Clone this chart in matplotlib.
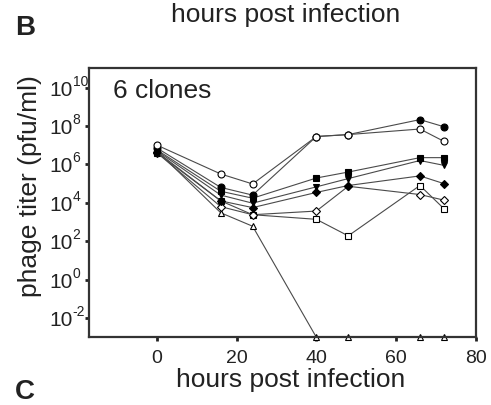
import numpy as np
import matplotlib
matplotlib.use("Agg")
import matplotlib.pyplot as plt
from matplotlib.ticker import FixedLocator, NullFormatter
from matplotlib.transforms import blended_transform_factory, ScaledTranslation

plt.rcParams['font.family'] = ['Liberation Sans', 'DejaVu Sans']

# hours post infection
hours = [0, 16, 24, 40, 48, 66, 72]

# log10 phage titer (pfu/ml) per clone / series
filled_circle   = [6.85, 4.80, 4.40, 7.45, 7.55, 8.33, 7.96]
open_circle     = [7.00, 5.50, 4.98, 7.45, 7.55, 7.84, 7.20]
filled_square   = [6.75, 4.60, 4.24, 5.29, 5.60, 6.35, 6.35]
filled_tri_down = [6.70, 4.40, 3.98, 4.83, 5.26, 6.20, 5.95]
filled_diamond  = [6.65, 4.10, 3.75, 4.54, 4.90, 5.40, 5.00]
open_diamond    = [6.60, 3.80, 3.38, 3.57, 4.86, 4.43, 4.14]
open_square     = [6.60, 4.10, 3.38, 3.14, 2.28, 4.90, 3.70]
open_tri_up     = [6.70, 3.48, 2.78, -3.0, -3.0, -3.0, -3.0]

series = [
    (open_tri_up, '^', 'white', 5),
    (open_square, 's', 'white', 4.5),
    (open_diamond, 'D', 'white', 4.5),
    (filled_diamond, 'D', 'black', 4),
    (filled_tri_down, 'v', 'black', 5),
    (filled_square, 's', 'black', 4.5),
    (filled_circle, 'o', 'black', 5),
    (open_circle, 'o', 'white', 5),
]

ytick_exps = [-2, 0, 2, 4, 6, 8, 10]
ytick_base = '10'
xticks = [0, 20, 40, 60, 80]

fig = plt.figure(figsize=(4.91, 4.05), dpi=100)
ax = fig.add_axes([89.3/491, 1-337.3/405, (475.7-89.3)/491, (337.3-68.3)/405])

for vals, mk, fc, ms in series:
    ax.plot(hours, 10.0**np.array(vals), color='#4a4a4a', lw=0.8,
            marker=mk, markerfacecolor=fc, markeredgecolor='black',
            markeredgewidth=0.8, markersize=ms, clip_on=False)

ax.set_yscale('log')
ax.set_ylim(1e-3, 1e11)
ax.set_xlim(-17, 80)

ax.yaxis.set_major_locator(FixedLocator([10.0**e for e in ytick_exps]))
ax.yaxis.set_major_formatter(NullFormatter())
ax.yaxis.set_minor_locator(FixedLocator([]))
ax.set_xticks(xticks)
ax.set_xticklabels([str(t) for t in xticks])

for s in ax.spines.values():
    s.set_linewidth(1.6)
    s.set_color('#333333')
ax.tick_params(axis='y', direction='out', length=3, width=2, colors='#222222')
ax.tick_params(axis='x', direction='out', length=3, width=2, pad=6,
               labelsize=14, colors='#222222')

# y tick labels: base "10" with raised exponent
trans = blended_transform_factory(ax.transAxes, ax.transData)
def off(dx_px, dy_px):
    return ScaledTranslation(dx_px/100, dy_px/100, fig.dpi_scale_trans)
for e in ytick_exps:
    ax.text(0, 10.0**e, ytick_base, fontsize=15, ha='right', va='baseline',
            color='#222222', clip_on=False,
            transform=trans + off(-(89.3-72.5), -8))
    ax.text(0, 10.0**e, str(e), fontsize=10, ha='left', va='baseline',
            color='#222222', clip_on=False,
            transform=trans + off(-(89.3-72.5), 2))

fig.text(113/491, 1-98/405, '6 clones', fontsize=19, va='baseline', ha='left', color='#222222')
fig.text(291/491, 18/405, 'hours post infection', fontsize=19, ha='center', va='baseline', color='#222222')
fig.text(286/491, 1-21.7/405, 'hours post infection', fontsize=19, ha='center', va='baseline', color='#222222')
fig.text(30/491, 1-186/405, 'phage titer (pfu/ml)', fontsize=19, rotation=90,
         ha='center', va='center', color='#222222')
fig.text(15/491, 1-35/405, 'B', fontsize=20, fontweight='bold', ha='left', va='baseline', color='#222222')
fig.text(15/491, 1-399/405, 'C', fontsize=20, fontweight='bold', ha='left', va='baseline', color='#222222')

fig.savefig('out.png', dpi=100)
